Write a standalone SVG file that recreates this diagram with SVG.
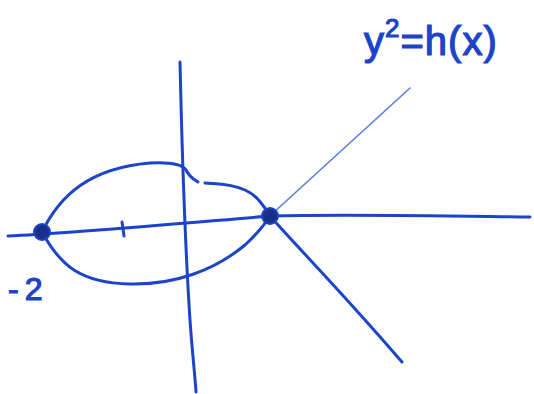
<svg xmlns="http://www.w3.org/2000/svg" width="534" height="394" viewBox="0 0 534 394">
<style>
.ln{fill:none;stroke:#1c44c8;stroke-width:3;stroke-linecap:round;stroke-linejoin:round}
.thin{fill:none;stroke:#5a7de0;stroke-width:1.6;stroke-linecap:round}
.dot{fill:#1a2f8a;stroke:#1c44c8;stroke-width:2}
.lbl{font-family:"Liberation Sans",Arial,sans-serif;fill:#1c44c8;stroke:#1c44c8;stroke-width:1.2}
</style>
<rect width="534" height="394" fill="#ffffff"/>
<g id="connectors">
<path class="ln" d="M8,236 C60,234 150,226 270,216 C350,214 450,216 530,217"/>
<path class="ln" d="M180,62 C182,150 186,260 190,320 C192,350 195,375 196,392"/>
<path class="ln" d="M42,232 C60,195 90,168 150,163 C170,162 182,164 186,170 C190,178 195,180 198,182"/>
<path class="ln" d="M205,183 C215,184 230,183 245,190 C258,196 262,205 268,212"/>
<path class="ln" d="M42,232 C60,265 80,283 130,284 C175,285 215,270 245,245 C258,233 265,224 270,216"/>
<path class="ln" d="M270,216 C300,250 340,290 402,362"/>
<path class="thin" d="M272,214 L410,88"/>
<path class="ln" d="M122,222 L124,236"/>
</g>
<g id="node-left"><circle class="dot" cx="42" cy="232" r="8"/></g>
<g id="node-right"><circle class="dot" cx="270" cy="216" r="8"/></g>
<g id="label-eq"><text class="lbl" x="364" y="55" font-size="40" letter-spacing="1">y<tspan font-size="26" dy="-18">2</tspan><tspan dy="18">=h(x)</tspan></text></g>
<g id="label-m2"><text class="lbl" x="8" y="300" font-size="32" letter-spacing="6">-2</text></g>
</svg>
